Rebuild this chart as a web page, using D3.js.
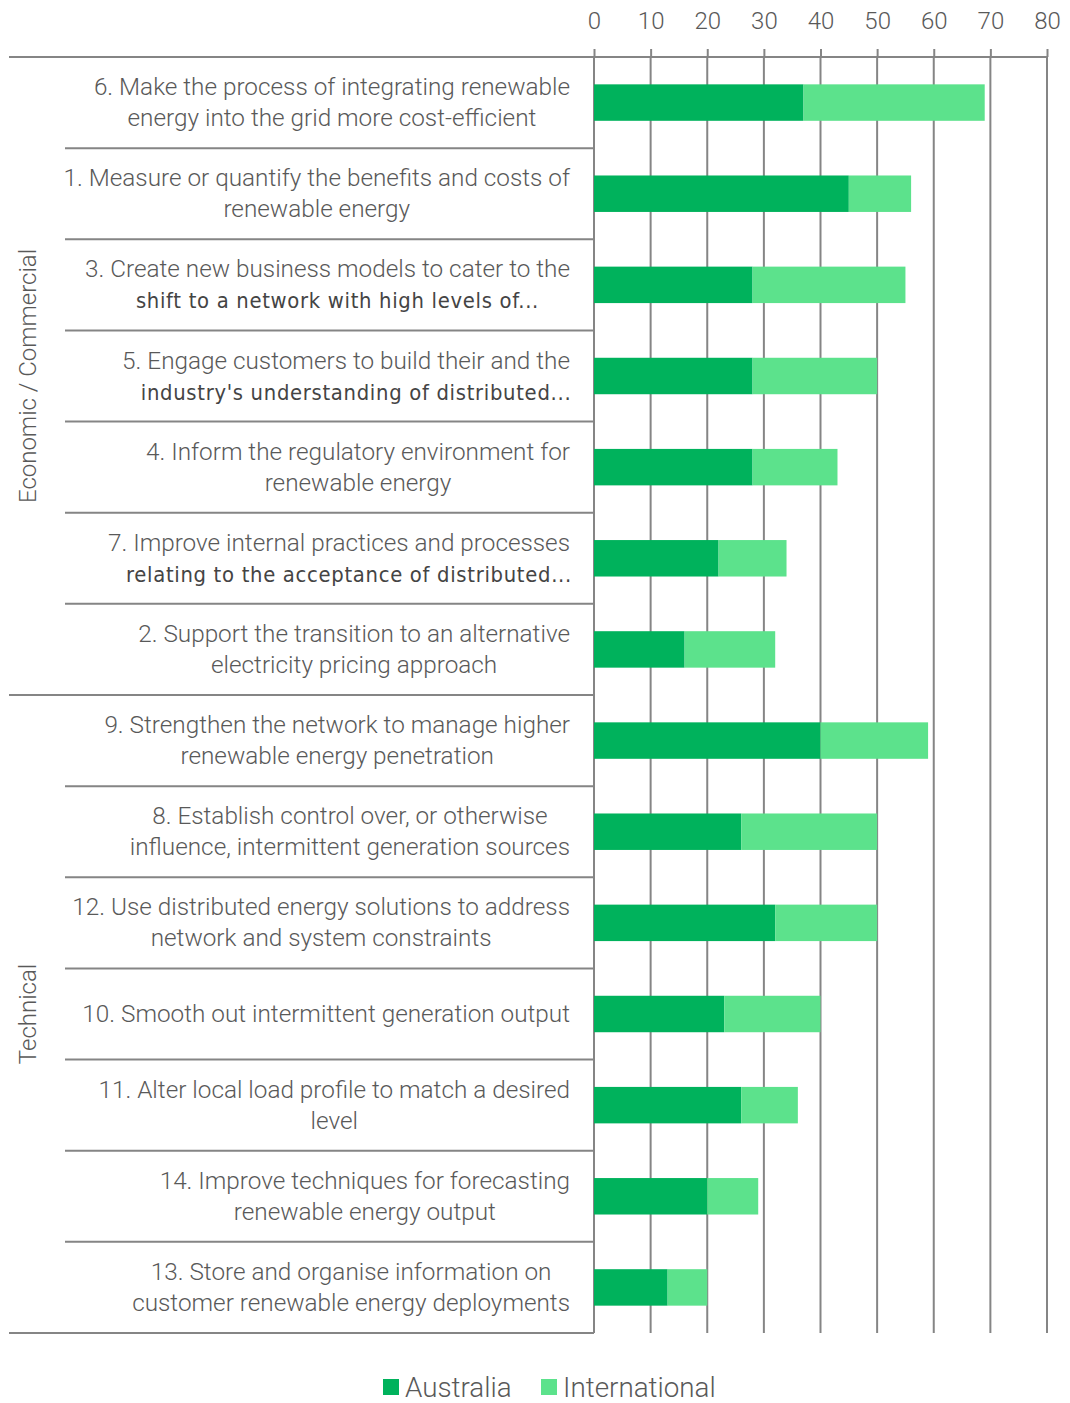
<!DOCTYPE html>
<html>
<head>
<meta charset="utf-8">
<script src="https://cdn.jsdelivr.net/npm/d3@7"></script>
<style>
  html, body { margin: 0; padding: 0; background: #fff; }
  svg { display: block; }
</style>
</head>
<body>
<svg id="chart" width="1070" height="1403"></svg>
<script>
// Objectives, in display order (each label split into its two lines)
const objectives = [
  ["6. Make the process of integrating renewable", "energy into the grid more cost-efficient"],
  ["1. Measure or quantify the benefits and costs of", "renewable energy"],
  ["3. Create new business models to cater to the", "shift to a network with high levels of..."],
  ["5. Engage customers to build their and the", "industry's understanding of distributed..."],
  ["4. Inform the regulatory environment for", "renewable energy"],
  ["7. Improve internal practices and processes", "relating to the acceptance of distributed..."],
  ["2. Support the transition to an alternative", "electricity pricing approach"],
  ["9. Strengthen the network to manage higher", "renewable energy penetration"],
  ["8. Establish control over, or otherwise", "influence, intermittent generation sources"],
  ["12. Use distributed energy solutions to address", "network and system constraints"],
  ["10. Smooth out intermittent generation output"],
  ["11. Alter local load profile to match a desired", "level"],
  ["14. Improve techniques for forecasting", "renewable energy output"],
  ["13. Store and organise information on", "customer renewable energy deployments"]
];
// Truncated second lines that are set in a different face
const altLines = [2, 3, 5];

const groups = ["Economic / Commercial", "Technical"];
const groupSizes = [7, 7];

const seriesNames = ["Australia", "International"];
const australia     = [37, 45, 28, 28, 28, 22, 16, 40, 26, 32, 23, 26, 20, 13];
const international = [32, 11, 27, 22, 15, 12, 16, 19, 24, 18, 17, 10,  9,  7];

const xTicks = [0, 10, 20, 30, 40, 50, 60, 70, 80];

const colors = ["#00b25c", "#5ce28c"];
const textColor = "#595959";
const lineColor = "#858585";
const fontMain = "Roboto, 'Open Sans', sans-serif";

const svg = d3.select("#chart");

const plotLeft = 594, plotRight = 1047, plotTop = 57, plotBottom = 1333;

const x = d3.scaleLinear().domain([0, 80]).range([plotLeft, plotRight]);
const rowIds = objectives.map((d, i) => i);
const y = d3.scaleBand().domain(rowIds).range([plotTop, plotBottom])
  .paddingInner(0.6).paddingOuter(0.3);
const step = y.step();

// Vertical gridlines
svg.append("g").selectAll("line").data(xTicks).join("line")
  .attr("x1", d => x(d)).attr("x2", d => x(d))
  .attr("y1", plotTop).attr("y2", plotBottom)
  .attr("stroke", lineColor).attr("stroke-width", 2);

// Top axis
const axis = svg.append("g")
  .attr("transform", `translate(0,${plotTop})`)
  .call(d3.axisTop(x).tickValues(xTicks).tickSize(8).tickPadding(20));
axis.select(".domain").attr("stroke", lineColor).attr("stroke-width", 2)
  .attr("d", `M${plotLeft},0H${plotRight}`);
axis.selectAll(".tick line").attr("stroke", lineColor).attr("stroke-width", 2);
axis.selectAll(".tick text")
  .attr("fill", textColor)
  .style("font-family", fontMain).style("font-weight", 300).style("font-size", "24px");

// Stacked bars
const rows = rowIds.map(i => ({ i, Australia: australia[i], International: international[i] }));
const stacked = d3.stack().keys(seriesNames)(rows);
svg.append("g").selectAll("g").data(stacked).join("g")
  .attr("fill", (d, k) => colors[k])
  .selectAll("rect").data(d => d).join("rect")
  .attr("x", d => x(d[0]))
  .attr("width", d => x(d[1]) - x(d[0]))
  .attr("y", d => y(d.data.i))
  .attr("height", y.bandwidth());

// Row separators and group boundaries
const seps = svg.append("g").attr("stroke", lineColor).attr("stroke-width", 2);
let boundaries = [0];
groupSizes.reduce((acc, n) => { boundaries.push(acc + n); return acc + n; }, 0);
for (let r = 0; r <= objectives.length; r++) {
  const yy = plotTop + r * step;
  const isGroupEdge = boundaries.includes(r);
  seps.append("line")
    .attr("x1", isGroupEdge ? 9 : 65).attr("x2", plotLeft)
    .attr("y1", yy).attr("y2", yy);
}

// Row labels: lines centred on each other, block aligned right
const labelRight = 570;
const labels = svg.append("g");
objectives.forEach((lines, i) => {
  const cy = y(i) + y.bandwidth() / 2;
  const g = labels.append("g");
  const lineH = 31;
  const texts = lines.map((ln, j) => {
    const alt = j === 1 && altLines.includes(i);
    const t = g.append("text")
      .attr("y", cy + (j - (lines.length - 1) / 2) * lineH + 8)
      .attr("text-anchor", "middle")
      .attr("fill", alt ? "#444" : textColor)
      .style("font-family", alt ? "'DejaVu Sans Condensed', 'DejaVu Sans', sans-serif" : fontMain)
      .style("font-weight", alt ? 400 : 300)
      .style("font-size", alt ? "21.8px" : "24.3px")
      .style("letter-spacing", alt ? "0.7px" : "0px")
      .text(ln);
    t.datum({ shift: alt ? 10 : 0 });
    return t;
  });
  const maxW = d3.max(texts, t => t.node().getComputedTextLength());
  texts.forEach(t => t.attr("x", d => labelRight - maxW / 2 + d.shift));
});

// Group labels (rotated)
let start = 0;
groups.forEach((name, k) => {
  const y0 = plotTop + start * step;
  const y1 = plotTop + (start + groupSizes[k]) * step;
  start += groupSizes[k];
  svg.append("text")
    .attr("transform", `translate(36,${(y0 + y1) / 2}) rotate(-90)`)
    .attr("text-anchor", "middle")
    .attr("fill", textColor)
    .style("font-family", fontMain).style("font-weight", 300).style("font-size", "24px")
    .text(name);
});

// Legend
const legend = svg.append("g").attr("transform", "translate(383,1379)");
const legendX = [0, 158];
seriesNames.forEach((name, k) => {
  const lg = legend.append("g").attr("transform", `translate(${legendX[k]},0)`);
  lg.append("rect").attr("width", 16).attr("height", 16).attr("fill", colors[k]);
  lg.append("text").attr("x", 22).attr("y", 18)
    .attr("fill", textColor)
    .style("font-family", fontMain).style("font-weight", 300).style("font-size", "27.8px")
    .text(name);
});
</script>
</body>
</html>
